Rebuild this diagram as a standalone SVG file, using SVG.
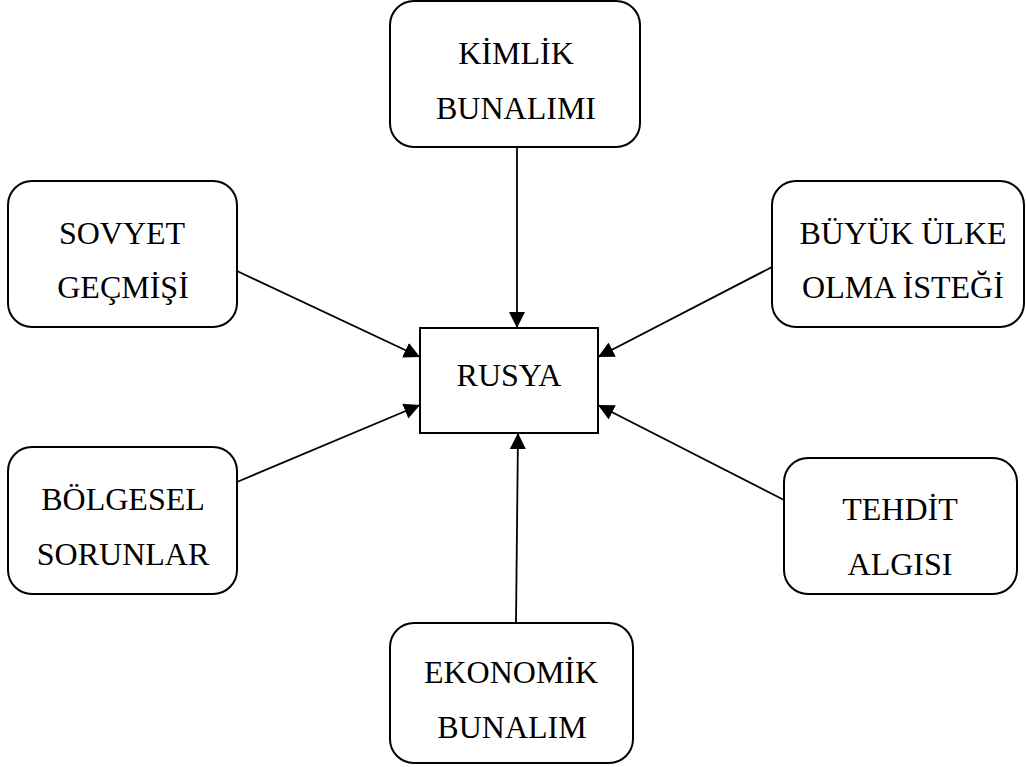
<svg xmlns="http://www.w3.org/2000/svg" width="1026" height="767" viewBox="0 0 1026 767">
<style>
.box{fill:#fff;stroke:#000;stroke-width:2}
.t{font-family:"Liberation Serif","Times New Roman",serif;font-size:32px;fill:#000;text-anchor:middle}
.c{stroke:#000;stroke-width:1.8;fill:none;marker-end:url(#ah)}
</style>
<defs>
<marker id="ah" markerUnits="userSpaceOnUse" markerWidth="16" markerHeight="16" viewBox="0 0 16 16" refX="16" refY="8" orient="auto">
<path d="M0,0 L16,8 L0,16 Z" fill="#000"/>
</marker>
</defs>
<rect width="1026" height="767" fill="#fff"/>
<g id="connectors">
<line class="c" x1="517" y1="147" x2="517" y2="328"/>
<line class="c" x1="237" y1="271" x2="420" y2="357"/>
<line class="c" x1="772" y1="267" x2="598" y2="357"/>
<line class="c" x1="237" y1="482" x2="420" y2="405"/>
<line class="c" x1="784" y1="500" x2="598" y2="405"/>
<line class="c" x1="516" y1="623" x2="518" y2="433"/>
</g>
<g id="rusya">
<rect class="box" x="420" y="328" width="178" height="105"/>
<text class="t" x="509" y="386">RUSYA</text>
</g>
<g id="kimlik">
<rect class="box" x="390" y="1" width="250" height="146" rx="24"/>
<text class="t" x="516" y="64">KİMLİK</text>
<text class="t" x="516" y="119">BUNALIMI</text>
</g>
<g id="sovyet">
<rect class="box" x="8" y="181" width="229" height="146" rx="24"/>
<text class="t" x="122" y="244">SOVYET</text>
<text class="t" x="123" y="298">GEÇMİŞİ</text>
</g>
<g id="buyuk">
<rect class="box" x="772" y="181" width="252" height="146" rx="24"/>
<text class="t" x="903" y="244">BÜYÜK ÜLKE</text>
<text class="t" x="903" y="298">OLMA İSTEĞİ</text>
</g>
<g id="bolgesel">
<rect class="box" x="8" y="447" width="229" height="147" rx="24"/>
<text class="t" x="123" y="510">BÖLGESEL</text>
<text class="t" x="123" y="565">SORUNLAR</text>
</g>
<g id="tehdit">
<rect class="box" x="784" y="458" width="233" height="136" rx="24"/>
<text class="t" x="900" y="520">TEHDİT</text>
<text class="t" x="900" y="575">ALGISI</text>
</g>
<g id="ekonomik">
<rect class="box" x="390" y="623" width="243" height="140" rx="24"/>
<text class="t" x="511" y="683">EKONOMİK</text>
<text class="t" x="512" y="738">BUNALIM</text>
</g>
</svg>
